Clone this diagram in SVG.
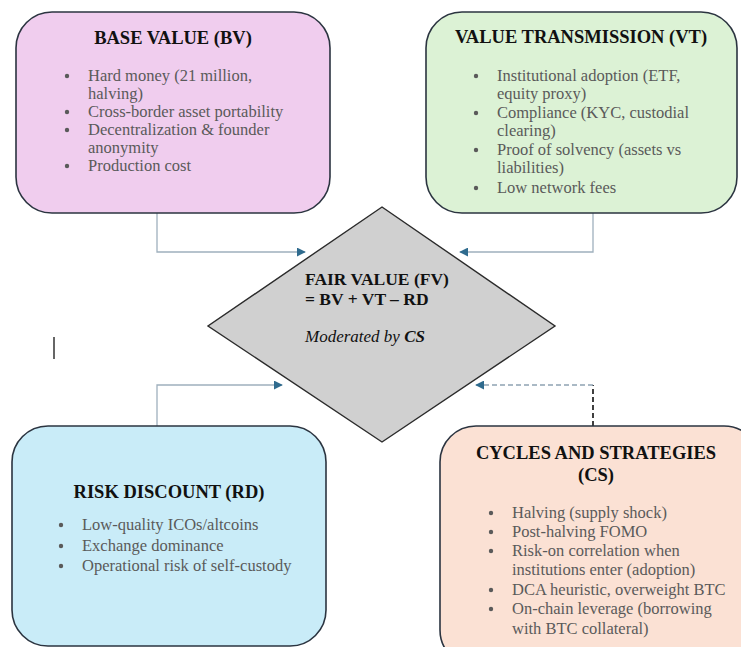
<svg xmlns="http://www.w3.org/2000/svg" width="741" height="647" viewBox="0 0 741 647">
<style>
.box{stroke:#2b3440;stroke-width:1.6}
.title{font-family:"Liberation Serif","Times New Roman",serif;font-weight:bold;font-size:18.5px;fill:#111;text-anchor:middle}
.body{font-family:"Liberation Serif","Times New Roman",serif;font-size:16.5px;fill:#5a5a5a}
.dot{fill:#5a5a5a}
.conn{fill:none;stroke:#9fb0bd;stroke-width:1.3}
.dash{fill:none;stroke:#8fa3b3;stroke-width:1.3;stroke-dasharray:5 3}
.dashv{fill:none;stroke:#111;stroke-width:1.6;stroke-dasharray:5 3}
.fv{font-family:"Liberation Serif","Times New Roman",serif;font-size:17px;fill:#111}
.fvb{font-family:"Liberation Serif","Times New Roman",serif;font-size:17.5px;font-weight:bold;fill:#111}
</style>
<defs>
<marker id="arr" viewBox="0 0 10 10" refX="9" refY="5" markerWidth="9" markerHeight="9" markerUnits="userSpaceOnUse" orient="auto">
<path d="M0,0 L10,5 L0,10 z" fill="#2f6b8e"/>
</marker>
</defs>
<rect width="741" height="647" fill="#ffffff"/>

<g id="connectors">
<path class="conn" d="M157,213 V252 H305" marker-end="url(#arr)"/>
<path class="conn" d="M593,213 V252 H460" marker-end="url(#arr)"/>
<path class="conn" d="M157,426 V385 H282" marker-end="url(#arr)"/>
<path class="dashv" d="M593,426 V385"/>
<path class="dash" d="M593,385 H476" marker-end="url(#arr)"/>
</g>

<g id="fv">
<polygon points="382,207 555,326 382,442 208,326" fill="#d0d0d0" stroke="#2b2b2b" stroke-width="1.4"/>
<text class="fvb" x="305" y="285">FAIR VALUE (FV)</text>
<text class="fvb" x="305" y="305">= BV + VT – RD</text>
<text class="fv" x="305" y="342" font-style="italic">Moderated by <tspan font-weight="bold">CS</tspan></text>
</g>

<g id="bv">
<rect class="box" x="16" y="12" width="314" height="201" rx="36" fill="#f0cdee"/>
<text class="title" x="173" y="44">BASE VALUE (BV)</text>
<g class="dot"><circle cx="67" cy="76" r="2.2"/><circle cx="67" cy="112" r="2.2"/><circle cx="67" cy="130" r="2.2"/><circle cx="67" cy="166" r="2.2"/></g>
<text class="body" x="88" y="81">Hard money (21 million,</text>
<text class="body" x="88" y="99">halving)</text>
<text class="body" x="88" y="117">Cross-border asset portability</text>
<text class="body" x="88" y="135">Decentralization &amp; founder</text>
<text class="body" x="88" y="153">anonymity</text>
<text class="body" x="88" y="171">Production cost</text>
</g>

<g id="vt">
<rect class="box" x="426" y="12" width="311" height="201" rx="36" fill="#dcf2d5"/>
<text class="title" x="581" y="43">VALUE TRANSMISSION (VT)</text>
<g class="dot"><circle cx="476" cy="76" r="2.2"/><circle cx="476" cy="113" r="2.2"/><circle cx="476" cy="150" r="2.2"/><circle cx="476" cy="188" r="2.2"/></g>
<text class="body" x="497" y="81">Institutional adoption (ETF,</text>
<text class="body" x="497" y="99">equity proxy)</text>
<text class="body" x="497" y="118">Compliance (KYC, custodial</text>
<text class="body" x="497" y="136">clearing)</text>
<text class="body" x="497" y="155">Proof of solvency (assets vs</text>
<text class="body" x="497" y="173">liabilities)</text>
<text class="body" x="497" y="193">Low network fees</text>
</g>

<g id="rd">
<rect class="box" x="12" y="426" width="314" height="220" rx="36" fill="#c9ecf8"/>
<text class="title" x="169" y="498">RISK DISCOUNT (RD)</text>
<g class="dot"><circle cx="61" cy="525" r="2.2"/><circle cx="61" cy="546" r="2.2"/><circle cx="61" cy="566" r="2.2"/></g>
<text class="body" x="82" y="530">Low-quality ICOs/altcoins</text>
<text class="body" x="82" y="551">Exchange dominance</text>
<text class="body" x="82" y="571">Operational risk of self-custody</text>
</g>

<g id="cs">
<rect class="box" x="440" y="426" width="320" height="240" rx="36" fill="#fbe1d4"/>
<text class="title" x="596" y="459">CYCLES AND STRATEGIES</text>
<text class="title" x="596" y="481">(CS)</text>
<g class="dot"><circle cx="491" cy="513" r="2.2"/><circle cx="491" cy="532" r="2.2"/><circle cx="491" cy="551" r="2.2"/><circle cx="491" cy="590" r="2.2"/><circle cx="491" cy="609" r="2.2"/></g>
<text class="body" x="512" y="518">Halving (supply shock)</text>
<text class="body" x="512" y="537">Post-halving FOMO</text>
<text class="body" x="512" y="556">Risk-on correlation when</text>
<text class="body" x="512" y="575">institutions enter (adoption)</text>
<text class="body" x="512" y="595">DCA heuristic, overweight BTC</text>
<text class="body" x="512" y="614">On-chain leverage (borrowing</text>
<text class="body" x="512" y="634">with BTC collateral)</text>
</g>

<line x1="54" y1="337" x2="54" y2="359" stroke="#333" stroke-width="1.5"/>
</svg>
